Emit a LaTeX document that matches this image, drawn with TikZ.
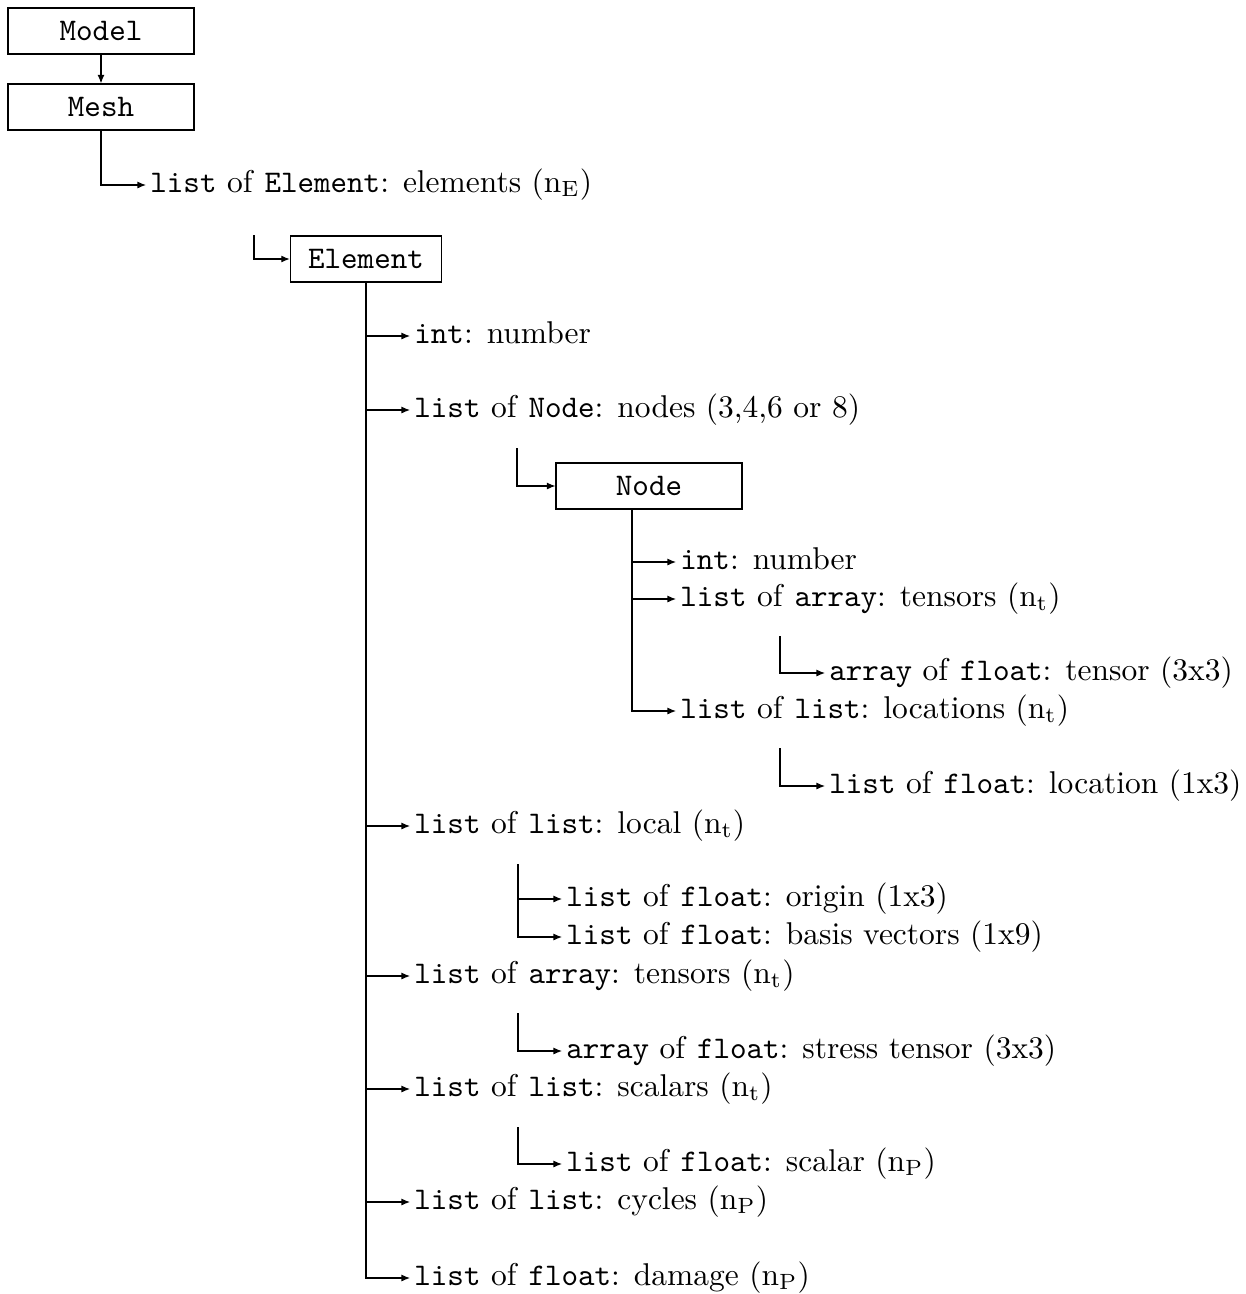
\documentclass[tikz,border=0pt]{standalone}
\usetikzlibrary{arrows.meta}
\begin{document}
\begin{tikzpicture}[x=0.3175pt,y=-0.3175pt,
  box/.style={draw,line width=0.4pt,minimum height=14.6pt,inner sep=0pt,font=\ttfamily},
  lbl/.style={anchor=west,inner sep=1.2pt,text height=7pt,text depth=2.5pt},
  arr/.style={line width=0.35pt,-{Latex[length=2.7pt,width=2.2pt]}}]
\useasboundingbox (0,0) rectangle (1246,1294);

% class boxes
\node[box,minimum width=59pt] (model) at (101,31) {Model};
\node[box,minimum width=59pt] (mesh) at (101,107) {Mesh};
\node[box,minimum width=48pt] (element) at (366,259) {Element};
\node[box,minimum width=59pt] (node) at (649,486) {Node};

% mesh content
\node[lbl] (elist) at (146,185) {\texttt{list} of \texttt{Element}: elements (n$_{\mathrm{E}}$)};

% element members
\node[lbl] (e1) at (410,336) {\texttt{int}: number};
\node[lbl] (e2) at (410,410) {\texttt{list} of \texttt{Node}: nodes (3,4,6 or 8)};
\node[lbl] (e3) at (410,826) {\texttt{list} of \texttt{list}: local (n$_{\mathrm{t}}$)};
\node[lbl] (e4) at (410,976) {\texttt{list} of \texttt{array}: tensors (n$_{\mathrm{t}}$)};
\node[lbl] (e5) at (410,1089) {\texttt{list} of \texttt{list}: scalars (n$_{\mathrm{t}}$)};
\node[lbl] (e6) at (410,1202) {\texttt{list} of \texttt{list}: cycles (n$_{\mathrm{P}}$)};
\node[lbl] (e7) at (410,1278) {\texttt{list} of \texttt{float}: damage (n$_{\mathrm{P}}$)};

% nested entries of element members
\node[lbl] (e3a) at (562,899) {\texttt{list} of \texttt{float}: origin (1x3)};
\node[lbl] (e3b) at (562,937) {\texttt{list} of \texttt{float}: basis vectors (1x9)};
\node[lbl] (e4a) at (562,1051) {\texttt{array} of \texttt{float}: stress tensor (3x3)};
\node[lbl] (e5a) at (562,1164) {\texttt{list} of \texttt{float}: scalar (n$_{\mathrm{P}}$)};

% node members
\node[lbl] (n1) at (676,562) {\texttt{int}: number};
\node[lbl] (n2) at (676,599) {\texttt{list} of \texttt{array}: tensors (n$_{\mathrm{t}}$)};
\node[lbl] (n3) at (676,711) {\texttt{list} of \texttt{list}: locations (n$_{\mathrm{t}}$)};
\node[lbl] (n2a) at (825,673) {\texttt{array} of \texttt{float}: tensor (3x3)};
\node[lbl] (n3a) at (825,786) {\texttt{list} of \texttt{float}: location (1x3)};

% branch starts
\coordinate (celem) at (254,235);
\coordinate (cnode) at (517,448);
\coordinate (ntrunk) at (632,509);
\coordinate (cn2) at (780,636);
\coordinate (cn3) at (780,748);
\coordinate (ce3) at (518,864);
\coordinate (ce4) at (518,1013);
\coordinate (ce5) at (518,1127);

% connectors
\draw[arr] (model) -- (mesh);
\draw[arr] (mesh.south) |- (elist.west);
\draw[arr] (celem) |- (element.west);

\draw[arr] (element.south) |- (e7.west);
\foreach \t in {e1,e2,e3,e4,e5,e6}
  \draw[arr] (element.south |- \t.west) -- (\t.west);

\draw[arr] (cnode) |- (node.west);
\draw[arr] (ntrunk) |- (n3.west);
\foreach \t in {n1,n2}
  \draw[arr] (ntrunk |- \t.west) -- (\t.west);
\draw[arr] (cn2) |- (n2a.west);
\draw[arr] (cn3) |- (n3a.west);

\draw[arr] (ce3) |- (e3b.west);
\draw[arr] (ce3 |- e3a.west) -- (e3a.west);
\draw[arr] (ce4) |- (e4a.west);
\draw[arr] (ce5) |- (e5a.west);
\end{tikzpicture}
\end{document}
